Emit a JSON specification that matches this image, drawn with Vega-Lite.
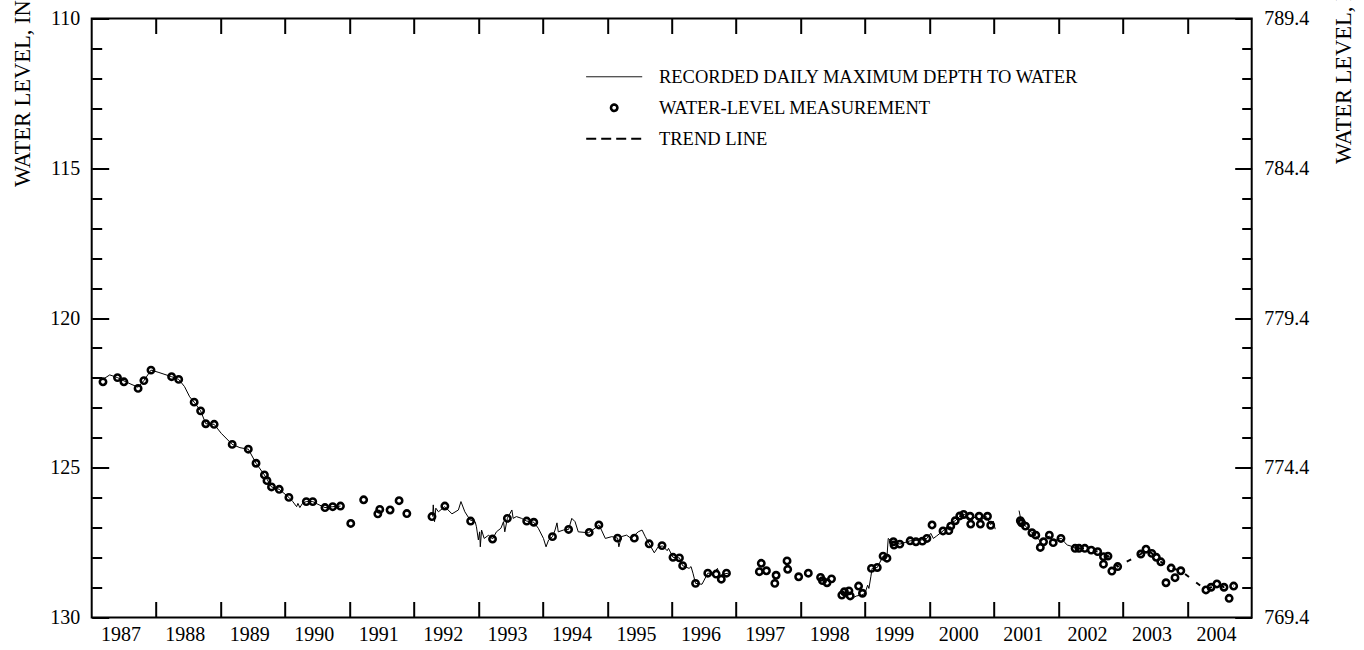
{
  "$schema": "https://vega.github.io/schema/vega-lite/v6.json",
  "width": 1160,
  "height": 599,
  "autosize": {"type": "none"},
  "padding": {"left": 91.7, "top": 18.5, "right": 112.3, "bottom": 32.5},
  "background": "white",
  "config": {
    "view": {"stroke": "black", "strokeWidth": 2},
    "font": "Liberation Serif",
    "axis": {"labelFont": "Liberation Serif", "titleFont": "Liberation Serif", "labelColor": "black", "titleColor": "black", "tickColor": "black", "titleFontWeight": "normal", "grid": false, "domain": false, "labelOverlap": false, "labelFlush": false, "labelBound": false}
  },
  "datasets": {
    "wl": [
      {"t":1987.0,"d":121.99,"s":"R","g":1},{"t":1987.05,"d":121.99,"s":"R","g":1},{"t":1987.18,"d":122.04,"s":"R","g":1},{"t":1987.28,"d":121.9,"s":"R","g":1},{"t":1987.4,"d":121.99,"s":"R","g":1},{"t":1987.5,"d":122.1,"s":"R","g":1},{"t":1987.61,"d":122.21,"s":"R","g":1},{"t":1987.72,"d":122.31,"s":"R","g":1},{"t":1987.81,"d":122.09,"s":"R","g":1},{"t":1987.92,"d":121.74,"s":"R","g":1},{"t":1988.03,"d":121.81,"s":"R","g":1},{"t":1988.24,"d":121.96,"s":"R","g":1},{"t":1988.35,"d":122.05,"s":"R","g":1},{"t":1988.44,"d":122.29,"s":"R","g":1},{"t":1988.52,"d":122.63,"s":"R","g":1},{"t":1988.59,"d":122.81,"s":"R","g":1},{"t":1988.69,"d":123.1,"s":"R","g":1},{"t":1988.77,"d":123.53,"s":"R","g":1},{"t":1988.9,"d":123.55,"s":"R","g":1},{"t":1989.01,"d":123.85,"s":"R","g":1},{"t":1989.18,"d":124.22,"s":"R","g":1},{"t":1989.3,"d":124.33,"s":"R","g":1},{"t":1989.43,"d":124.38,"s":"R","g":1},{"t":1989.55,"d":124.85,"s":"R","g":1},{"t":1989.68,"d":125.24,"s":"R","g":1},{"t":1989.79,"d":125.64,"s":"R","g":1},{"t":1989.91,"d":125.72,"s":"R","g":1},{"t":1990.06,"d":125.99,"s":"R","g":1},{"t":1990.12,"d":126.13,"s":"R","g":1},{"t":1990.18,"d":126.3,"s":"R","g":1},{"t":1990.2,"d":126.19,"s":"R","g":1},{"t":1990.23,"d":126.33,"s":"R","g":1},{"t":1990.27,"d":126.19,"s":"R","g":1},{"t":1990.33,"d":126.13,"s":"R","g":1},{"t":1990.43,"d":126.13,"s":"R","g":1},{"t":1990.51,"d":126.22,"s":"R","g":1},{"t":1990.62,"d":126.33,"s":"R","g":1},{"t":1990.74,"d":126.3,"s":"R","g":1},{"t":1990.86,"d":126.28,"s":"R","g":1},
      {"t":1992.29,"d":126.63,"s":"R","g":2},{"t":1992.3,"d":126.24,"s":"R","g":2},{"t":1992.32,"d":126.8,"s":"R","g":2},{"t":1992.34,"d":126.35,"s":"R","g":2},{"t":1992.38,"d":126.47,"s":"R","g":2},{"t":1992.48,"d":126.3,"s":"R","g":2},{"t":1992.59,"d":126.54,"s":"R","g":2},{"t":1992.69,"d":126.41,"s":"R","g":2},{"t":1992.73,"d":126.13,"s":"R","g":2},{"t":1992.79,"d":126.47,"s":"R","g":2},{"t":1992.87,"d":126.74,"s":"R","g":2},{"t":1992.95,"d":126.8,"s":"R","g":2},{"t":1992.97,"d":126.97,"s":"R","g":2},{"t":1993.0,"d":127.41,"s":"R","g":2},{"t":1993.02,"d":127.14,"s":"R","g":2},{"t":1993.03,"d":127.64,"s":"R","g":2},{"t":1993.05,"d":127.08,"s":"R","g":2},{"t":1993.09,"d":127.36,"s":"R","g":2},{"t":1993.16,"d":127.25,"s":"R","g":2},{"t":1993.22,"d":127.38,"s":"R","g":2},{"t":1993.28,"d":127.14,"s":"R","g":2},{"t":1993.35,"d":127.02,"s":"R","g":2},{"t":1993.39,"d":126.8,"s":"R","g":2},{"t":1993.41,"d":127.14,"s":"R","g":2},{"t":1993.45,"d":126.69,"s":"R","g":2},{"t":1993.52,"d":126.41,"s":"R","g":2},{"t":1993.54,"d":126.69,"s":"R","g":2},{"t":1993.59,"d":126.63,"s":"R","g":2},{"t":1993.67,"d":126.69,"s":"R","g":2},{"t":1993.75,"d":126.78,"s":"R","g":2},{"t":1993.86,"d":126.82,"s":"R","g":2},{"t":1993.93,"d":127.02,"s":"R","g":2},{"t":1994.01,"d":127.36,"s":"R","g":2},{"t":1994.05,"d":127.64,"s":"R","g":2},{"t":1994.09,"d":127.41,"s":"R","g":2},{"t":1994.15,"d":127.3,"s":"R","g":2},{"t":1994.19,"d":127.08,"s":"R","g":2},{"t":1994.22,"d":126.84,"s":"R","g":2},{"t":1994.24,"d":127.14,"s":"R","g":2},{"t":1994.32,"d":127.08,"s":"R","g":2},{"t":1994.4,"d":127.06,"s":"R","g":2},{"t":1994.45,"d":126.69,"s":"R","g":2},{"t":1994.5,"d":126.8,"s":"R","g":2},{"t":1994.55,"d":127.14,"s":"R","g":2},{"t":1994.71,"d":127.17,"s":"R","g":2},{"t":1994.81,"d":127.02,"s":"R","g":2},{"t":1994.87,"d":126.91,"s":"R","g":2},{"t":1994.91,"d":127.08,"s":"R","g":2},{"t":1994.97,"d":127.36,"s":"R","g":2},{"t":1995.07,"d":127.3,"s":"R","g":2},{"t":1995.16,"d":127.35,"s":"R","g":2},{"t":1995.18,"d":127.64,"s":"R","g":2},{"t":1995.22,"d":127.3,"s":"R","g":2},{"t":1995.3,"d":127.25,"s":"R","g":2},{"t":1995.37,"d":127.36,"s":"R","g":2},{"t":1995.48,"d":127.14,"s":"R","g":2},{"t":1995.54,"d":127.08,"s":"R","g":2},{"t":1995.59,"d":127.3,"s":"R","g":2},{"t":1995.65,"d":127.54,"s":"R","g":2},{"t":1995.73,"d":127.84,"s":"R","g":2},{"t":1995.79,"d":127.64,"s":"R","g":2},{"t":1995.86,"d":127.61,"s":"R","g":2},{"t":1995.93,"d":127.77,"s":"R","g":2},{"t":1995.95,"d":127.69,"s":"R","g":2},{"t":1996.02,"d":127.99,"s":"R","g":2},{"t":1996.12,"d":128.01,"s":"R","g":2},{"t":1996.17,"d":128.27,"s":"R","g":2},{"t":1996.27,"d":128.36,"s":"R","g":2},{"t":1996.3,"d":128.3,"s":"R","g":2},{"t":1996.33,"d":128.52,"s":"R","g":2},{"t":1996.37,"d":128.86,"s":"R","g":2},{"t":1996.47,"d":128.89,"s":"R","g":2},{"t":1996.56,"d":128.52,"s":"R","g":2},{"t":1996.65,"d":128.52,"s":"R","g":2},{"t":1996.71,"d":128.36,"s":"R","g":2},{"t":1996.74,"d":128.61,"s":"R","g":2},{"t":1996.8,"d":128.55,"s":"R","g":2},{"t":1996.88,"d":128.52,"s":"R","g":2},
      {"t":1998.79,"d":129.36,"s":"R","g":3},{"t":1998.87,"d":129.28,"s":"R","g":3},{"t":1998.95,"d":129.25,"s":"R","g":3},{"t":1999.0,"d":129.19,"s":"R","g":3},{"t":1999.04,"d":128.92,"s":"R","g":3},{"t":1999.06,"d":129.03,"s":"R","g":3},{"t":1999.09,"d":128.64,"s":"R","g":3},{"t":1999.11,"d":128.36,"s":"R","g":3},{"t":1999.19,"d":128.33,"s":"R","g":3},{"t":1999.28,"d":127.95,"s":"R","g":3},{"t":1999.34,"d":127.99,"s":"R","g":3},{"t":1999.36,"d":127.36,"s":"R","g":3},{"t":1999.4,"d":127.44,"s":"R","g":3},{"t":1999.44,"d":127.47,"s":"R","g":3},{"t":1999.54,"d":127.55,"s":"R","g":3},{"t":1999.7,"d":127.44,"s":"R","g":3},{"t":1999.88,"d":127.41,"s":"R","g":3},{"t":1999.96,"d":127.36,"s":"R","g":3},{"t":2000.02,"d":127.19,"s":"R","g":3},{"t":2000.06,"d":127.36,"s":"R","g":3},{"t":2000.11,"d":127.28,"s":"R","g":3},{"t":2000.21,"d":127.11,"s":"R","g":3},{"t":2000.32,"d":126.86,"s":"R","g":3},{"t":2000.4,"d":126.77,"s":"R","g":3},{"t":2000.47,"d":126.62,"s":"R","g":3},{"t":2000.55,"d":126.56,"s":"R","g":3},{"t":2000.63,"d":126.7,"s":"R","g":3},{"t":2000.72,"d":126.65,"s":"R","g":3},{"t":2000.8,"d":126.75,"s":"R","g":3},{"t":2000.88,"d":126.62,"s":"R","g":3},{"t":2000.95,"d":126.9,"s":"R","g":3},{"t":2000.99,"d":126.78,"s":"R","g":3},{"t":2001.02,"d":127.05,"s":"R","g":3},
      {"t":2001.39,"d":126.43,"s":"R","g":4},{"t":2001.42,"d":126.75,"s":"R","g":4},{"t":2001.49,"d":126.95,"s":"R","g":4},{"t":2001.59,"d":127.17,"s":"R","g":4},{"t":2001.65,"d":127.28,"s":"R","g":4},{"t":2001.72,"d":127.45,"s":"R","g":4},{"t":2001.8,"d":127.35,"s":"R","g":4},{"t":2001.86,"d":127.28,"s":"R","g":4},{"t":2001.93,"d":127.45,"s":"R","g":4},{"t":2002.0,"d":127.38,"s":"R","g":4},{"t":2002.05,"d":127.36,"s":"R","g":4},{"t":2002.1,"d":127.5,"s":"R","g":4},{"t":2002.14,"d":127.58,"s":"R","g":4},{"t":2002.2,"d":127.62,"s":"R","g":4},{"t":2002.27,"d":127.69,"s":"R","g":4},{"t":2002.32,"d":127.7,"s":"R","g":4},
      {"t":2002.32,"d":127.7,"s":"T","g":5},{"t":2002.41,"d":127.69,"s":"T","g":5},{"t":2002.51,"d":127.75,"s":"T","g":5},{"t":2002.61,"d":127.8,"s":"T","g":5},{"t":2002.7,"d":127.97,"s":"T","g":5},{"t":2002.77,"d":127.95,"s":"T","g":5},{"t":2002.92,"d":128.3,"s":"T","g":5},{"t":2003.28,"d":127.88,"s":"T","g":5},{"t":2003.36,"d":127.72,"s":"T","g":5},{"t":2003.45,"d":127.86,"s":"T","g":5},{"t":2003.52,"d":127.99,"s":"T","g":5},{"t":2003.59,"d":128.14,"s":"T","g":5},{"t":2003.75,"d":128.35,"s":"T","g":5},{"t":2003.9,"d":128.44,"s":"T","g":5},{"t":2004.29,"d":129.08,"s":"T","g":5},{"t":2004.37,"d":128.99,"s":"T","g":5},{"t":2004.46,"d":128.88,"s":"T","g":5},{"t":2004.57,"d":128.99,"s":"T","g":5},{"t":2004.72,"d":128.95,"s":"T","g":5},
      {"t":1987.175,"d":122.13,"s":"M","g":6},{"t":1987.4,"d":121.99,"s":"M","g":6},{"t":1987.5,"d":122.13,"s":"M","g":6},{"t":1987.72,"d":122.35,"s":"M","g":6},{"t":1987.81,"d":122.09,"s":"M","g":6},{"t":1987.92,"d":121.74,"s":"M","g":6},{"t":1988.24,"d":121.96,"s":"M","g":6},{"t":1988.35,"d":122.05,"s":"M","g":6},{"t":1988.59,"d":122.81,"s":"M","g":6},{"t":1988.69,"d":123.1,"s":"M","g":6},{"t":1988.77,"d":123.53,"s":"M","g":6},{"t":1988.9,"d":123.55,"s":"M","g":6},{"t":1989.18,"d":124.22,"s":"M","g":6},{"t":1989.43,"d":124.38,"s":"M","g":6},{"t":1989.55,"d":124.85,"s":"M","g":6},{"t":1989.68,"d":125.24,"s":"M","g":6},{"t":1989.72,"d":125.43,"s":"M","g":6},{"t":1989.79,"d":125.64,"s":"M","g":6},{"t":1989.91,"d":125.72,"s":"M","g":6},{"t":1990.06,"d":125.99,"s":"M","g":6},{"t":1990.33,"d":126.13,"s":"M","g":6},{"t":1990.43,"d":126.13,"s":"M","g":6},{"t":1990.62,"d":126.33,"s":"M","g":6},{"t":1990.74,"d":126.3,"s":"M","g":6},{"t":1990.86,"d":126.28,"s":"M","g":6},{"t":1991.02,"d":126.86,"s":"M","g":6},{"t":1991.22,"d":126.07,"s":"M","g":6},{"t":1991.44,"d":126.54,"s":"M","g":6},{"t":1991.47,"d":126.39,"s":"M","g":6},{"t":1991.63,"d":126.41,"s":"M","g":6},{"t":1991.77,"d":126.1,"s":"M","g":6},{"t":1991.89,"d":126.53,"s":"M","g":6},{"t":1992.28,"d":126.63,"s":"M","g":6},{"t":1992.48,"d":126.28,"s":"M","g":6},{"t":1992.88,"d":126.78,"s":"M","g":6},{"t":1993.22,"d":127.38,"s":"M","g":6},{"t":1993.45,"d":126.69,"s":"M","g":6},{"t":1993.75,"d":126.78,"s":"M","g":6},{"t":1993.86,"d":126.82,"s":"M","g":6},{"t":1994.15,"d":127.3,"s":"M","g":6},{"t":1994.4,"d":127.06,"s":"M","g":6},{"t":1994.72,"d":127.16,"s":"M","g":6},{"t":1994.87,"d":126.91,"s":"M","g":6},{"t":1995.16,"d":127.35,"s":"M","g":6},{"t":1995.42,"d":127.35,"s":"M","g":6},{"t":1995.65,"d":127.54,"s":"M","g":6},{"t":1995.85,"d":127.6,"s":"M","g":6},{"t":1996.02,"d":127.99,"s":"M","g":6},{"t":1996.12,"d":128.01,"s":"M","g":6},{"t":1996.17,"d":128.27,"s":"M","g":6},{"t":1996.37,"d":128.86,"s":"M","g":6},{"t":1996.56,"d":128.52,"s":"M","g":6},{"t":1996.69,"d":128.55,"s":"M","g":6},{"t":1996.77,"d":128.72,"s":"M","g":6},{"t":1996.85,"d":128.52,"s":"M","g":6},{"t":1997.36,"d":128.47,"s":"M","g":6},{"t":1997.39,"d":128.19,"s":"M","g":6},{"t":1997.47,"d":128.44,"s":"M","g":6},{"t":1997.6,"d":128.86,"s":"M","g":6},{"t":1997.62,"d":128.59,"s":"M","g":6},{"t":1997.79,"d":128.11,"s":"M","g":6},{"t":1997.8,"d":128.39,"s":"M","g":6},{"t":1997.97,"d":128.64,"s":"M","g":6},{"t":1998.12,"d":128.52,"s":"M","g":6},{"t":1998.31,"d":128.66,"s":"M","g":6},{"t":1998.34,"d":128.77,"s":"M","g":6},{"t":1998.41,"d":128.84,"s":"M","g":6},{"t":1998.48,"d":128.71,"s":"M","g":6},{"t":1998.64,"d":129.25,"s":"M","g":6},{"t":1998.68,"d":129.14,"s":"M","g":6},{"t":1998.75,"d":129.11,"s":"M","g":6},{"t":1998.77,"d":129.28,"s":"M","g":6},{"t":1998.9,"d":128.95,"s":"M","g":6},{"t":1998.96,"d":129.19,"s":"M","g":6},{"t":1999.1,"d":128.36,"s":"M","g":6},{"t":1999.19,"d":128.33,"s":"M","g":6},{"t":1999.28,"d":127.95,"s":"M","g":6},{"t":1999.34,"d":128.02,"s":"M","g":6},{"t":1999.44,"d":127.47,"s":"M","g":6},{"t":1999.45,"d":127.58,"s":"M","g":6},{"t":1999.54,"d":127.55,"s":"M","g":6},{"t":1999.7,"d":127.44,"s":"M","g":6},{"t":1999.79,"d":127.47,"s":"M","g":6},{"t":1999.89,"d":127.45,"s":"M","g":6},{"t":1999.96,"d":127.36,"s":"M","g":6},{"t":2000.04,"d":126.91,"s":"M","g":6},{"t":2000.21,"d":127.11,"s":"M","g":6},{"t":2000.3,"d":127.1,"s":"M","g":6},{"t":2000.33,"d":126.95,"s":"M","g":6},{"t":2000.4,"d":126.77,"s":"M","g":6},{"t":2000.47,"d":126.61,"s":"M","g":6},{"t":2000.53,"d":126.56,"s":"M","g":6},{"t":2000.63,"d":126.62,"s":"M","g":6},{"t":2000.64,"d":126.88,"s":"M","g":6},{"t":2000.77,"d":126.62,"s":"M","g":6},{"t":2000.79,"d":126.88,"s":"M","g":6},{"t":2000.9,"d":126.62,"s":"M","g":6},{"t":2000.95,"d":126.92,"s":"M","g":6},{"t":2001.41,"d":126.77,"s":"M","g":6},{"t":2001.43,"d":126.84,"s":"M","g":6},{"t":2001.49,"d":126.95,"s":"M","g":6},{"t":2001.59,"d":127.17,"s":"M","g":6},{"t":2001.65,"d":127.25,"s":"M","g":6},{"t":2001.72,"d":127.66,"s":"M","g":6},{"t":2001.77,"d":127.47,"s":"M","g":6},{"t":2001.86,"d":127.25,"s":"M","g":6},{"t":2001.92,"d":127.5,"s":"M","g":6},{"t":2002.04,"d":127.36,"s":"M","g":6},{"t":2002.26,"d":127.69,"s":"M","g":6},{"t":2002.32,"d":127.69,"s":"M","g":6},{"t":2002.41,"d":127.69,"s":"M","g":6},{"t":2002.51,"d":127.75,"s":"M","g":6},{"t":2002.61,"d":127.8,"s":"M","g":6},{"t":2002.7,"d":127.97,"s":"M","g":6},{"t":2002.7,"d":128.22,"s":"M","g":6},{"t":2002.77,"d":127.95,"s":"M","g":6},{"t":2002.83,"d":128.45,"s":"M","g":6},{"t":2002.92,"d":128.3,"s":"M","g":6},{"t":2003.28,"d":127.88,"s":"M","g":6},{"t":2003.36,"d":127.72,"s":"M","g":6},{"t":2003.45,"d":127.86,"s":"M","g":6},{"t":2003.52,"d":127.99,"s":"M","g":6},{"t":2003.59,"d":128.14,"s":"M","g":6},{"t":2003.67,"d":128.84,"s":"M","g":6},{"t":2003.75,"d":128.35,"s":"M","g":6},{"t":2003.81,"d":128.67,"s":"M","g":6},{"t":2003.9,"d":128.44,"s":"M","g":6},{"t":2004.29,"d":129.08,"s":"M","g":6},{"t":2004.37,"d":128.99,"s":"M","g":6},{"t":2004.46,"d":128.88,"s":"M","g":6},{"t":2004.57,"d":128.99,"s":"M","g":6},{"t":2004.65,"d":129.36,"s":"M","g":6},{"t":2004.72,"d":128.95,"s":"M","g":6}
    ]
  },
  "data": {"name": "wl"},
  "layer": [
    {
      "transform": [{"filter": "datum.s === 'R'"}],
      "mark": {"type": "line", "strokeWidth": 1, "color": "black"},
      "encoding": {
        "x": {"field": "t", "type": "quantitative", "scale": {"domain": [1987, 2005], "nice": false, "zero": false},
          "axis": {"orient": "bottom", "values": [1988,1989,1990,1991,1992,1993,1994,1995,1996,1997,1998,1999,2000,2001,2002,2003,2004], "labels": false, "ticks": true, "tickSize": -16, "tickWidth": 2, "title": null}},
        "y": {"field": "d", "type": "quantitative", "scale": {"domain": [110, 130], "reverse": true, "nice": false, "zero": false},
          "axis": {"orient": "left", "values": [110,111,112,113,114,115,116,117,118,119,120,121,122,123,124,125,126,127,128,129,130],
            "ticks": true, "tickWidth": 2,
            "tickSize": {"condition": {"test": "datum.value % 5 === 0", "value": -17}, "value": -10},
            "labelExpr": "datum.value % 5 === 0 ? datum.label : ''",
            "labelFontSize": 20, "labelPadding": 29,
            "title": "WATER LEVEL, IN FEET BELOW LAND SURFACE", "titleFontSize": 22.5, "titleAngle": -90, "titleAlign": "left", "titleBaseline": "alphabetic", "titleX": -62.6, "titleY": 168}},
        "color": {"field": "s", "type": "nominal",
          "scale": {"domain": ["R", "M", "T"], "range": ["black", "black", "black"]},
          "legend": {"orient": "none", "legendX": 494, "legendY": 49, "title": null, "columns": 1, "padding": 0, "rowPadding": 12,
            "symbolOffset": 19.25, "symbolType": "stroke",
            "labelOffset": 35.5, "labelFont": "Liberation Serif", "labelFontSize": 18.5, "labelColor": "black", "labelLimit": 1000,
            "labelExpr": "datum.value === 'R' ? 'RECORDED DAILY MAXIMUM DEPTH TO WATER' : (datum.value === 'M' ? 'WATER-LEVEL MEASUREMENT' : 'TREND LINE')",
            "encoding": {"symbols": {
              "shape": {"value": {"expr": "datum.value === 'M' ? 'circle' : 'stroke'"}},
              "size": {"value": {"expr": "datum.value === 'M' ? 40 : 3136"}},
              "strokeWidth": {"value": {"expr": "datum.value === 'M' ? 2.6 : (datum.value === 'T' ? 2 : 1)"}},
              "strokeDash": {"value": {"expr": "datum.value === 'T' ? [10, 5] : [1, 0]"}},
              "stroke": {"value": "black"},
              "fill": {"value": "transparent"},
              "opacity": {"value": 1}
            }}}},
        "detail": {"field": "g"}
      }
    },
    {
      "transform": [{"filter": "datum.s === 'T'"}],
      "mark": {"type": "line", "strokeWidth": 2, "strokeDash": [5, 9], "color": "black"},
      "encoding": {
        "x": {"field": "t", "type": "quantitative",
          "axis": {"orient": "bottom", "values": [1987.5,1988.5,1989.5,1990.5,1991.5,1992.5,1993.5,1994.5,1995.5,1996.5,1997.5,1998.5,1999.5,2000.5,2001.5,2002.5,2003.5,2004.5],
            "ticks": false, "tickSize": 0, "labelExpr": "'' + floor(datum.value)", "labelFontSize": 20, "labelPadding": 7, "labelOffset": -3.5, "title": null}},
        "y": {"field": "d", "type": "quantitative", "axis": null},
        "detail": {"field": "g"}
      }
    },
    {
      "transform": [{"filter": "datum.s === 'M'"}],
      "mark": {"type": "point", "shape": "circle", "filled": false, "size": 40, "strokeWidth": 2.6, "opacity": 1, "color": "black"},
      "encoding": {
        "x": {"field": "t", "type": "quantitative",
          "axis": {"orient": "top", "values": [1988,1989,1990,1991,1992,1993,1994,1995,1996,1997,1998,1999,2000,2001,2002,2003,2004], "labels": false, "ticks": true, "tickSize": -15, "tickWidth": 2, "title": null}},
        "y": {"field": "d", "type": "quantitative",
          "axis": {"orient": "right", "values": [110,111,112,113,114,115,116,117,118,119,120,121,122,123,124,125,126,127,128,129,130],
            "ticks": true, "tickWidth": 2,
            "tickSize": {"condition": {"test": "datum.value % 5 === 0", "value": -17}, "value": -10},
            "labelExpr": "datum.value % 5 === 0 ? format(899.4 - datum.value, '.1f') : ''",
            "labelFontSize": 20, "labelPadding": 29,
            "title": "WATER LEVEL, IN FEET ABOVE NGVD OF 1929", "titleFontSize": 22.5, "titleAngle": -90, "titleAlign": "left", "titleBaseline": "alphabetic", "titleX": 99, "titleY": 145}}
      }
    }
  ],
  "resolve": {"axis": {"x": "independent", "y": "independent"}}
}
